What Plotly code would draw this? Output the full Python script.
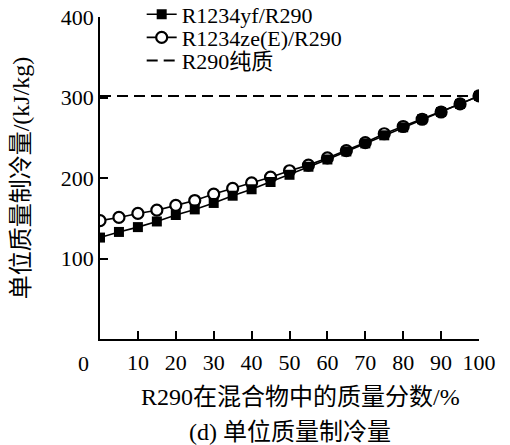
import plotly.graph_objects as go

x_frac = [0, 5, 10, 15, 20, 25, 30, 35, 40, 45, 50, 55, 60, 65, 70, 75, 80, 85, 90, 95, 100]
q_yf = [126, 133, 139, 146, 154, 161, 169, 178, 186, 195, 204, 214, 223, 233, 243, 253, 263, 273, 282, 292, 302]
q_ze = [147, 151, 156, 160, 166, 172, 180, 187, 194, 201, 209, 216, 225, 234, 244, 255, 264, 273, 282, 292, 302]
q_r290 = 302
x_ticks = [10, 20, 30, 40, 50, 60, 70, 80, 90, 100]
y_ticks = [100, 200, 300, 400]

FONT = "Liberation Serif, Noto Sans CJK SC, serif"

fig = go.Figure()
fig.add_trace(go.Scatter(
    x=x_frac, y=q_ze, name="R1234ze(E)/R290", mode="lines+markers",
    line=dict(color="black", width=1.6),
    marker=dict(symbol="circle", size=11, color="white", line=dict(color="black", width=2.2)),
    legend="legend2",
))
fig.add_trace(go.Scatter(
    x=x_frac, y=q_yf, name="R1234yf/R290", mode="lines+markers",
    line=dict(color="black", width=1.6),
    marker=dict(symbol="square", size=10, color="black"),
    legend="legend",
))
fig.add_trace(go.Scatter(
    x=[x_frac[0], x_frac[-1]], y=[q_r290, q_r290], name="R290纯质", mode="lines",
    line=dict(color="black", width=2, dash="11px,6px"),
    legend="legend3",
))

fig.add_annotation(x=0, y=0, xref="x", yref="y", text="0", showarrow=False,
                   xshift=-17, yshift=-24, font=dict(family=FONT, size=22, color="black"))
fig.add_annotation(x=0.53, y=0, xref="paper", yref="paper", yanchor="middle",
                   text="R290在混合物中的质量分数/%", showarrow=False, yshift=-58,
                   font=dict(family=FONT, size=24, color="black"))
fig.add_annotation(x=0.5, y=0, xref="paper", yref="paper", yanchor="middle",
                   text="(d) 单位质量制冷量", showarrow=False, yshift=-93,
                   font=dict(family=FONT, size=24, color="black"))

leg_common = dict(x=0.11, xanchor="left", yanchor="middle", bgcolor="rgba(0,0,0,0)",
                  font=dict(family=FONT, size=22, color="black"), borderwidth=0)

fig.update_layout(
    width=510, height=445,
    margin=dict(l=100, r=31, t=17, b=106, autoexpand=False),
    paper_bgcolor="white", plot_bgcolor="white",
    font=dict(family=FONT, size=22, color="black"),
    showlegend=True,
    legend=dict(y=1.008, **leg_common),
    legend2=dict(y=0.936, **leg_common),
    legend3=dict(y=0.864, **leg_common),
    xaxis=dict(range=[0, 100], tickvals=x_ticks, ticks="inside", ticklen=8, tickwidth=1.5,
               tickcolor="black", showline=True, linecolor="black", linewidth=1.5,
               showgrid=False, zeroline=False, tickfont=dict(family=FONT, size=22),
               ticklabelstandoff=3),
    yaxis=dict(range=[0, 400], tickvals=y_ticks, ticks="inside", ticklen=8, tickwidth=1.5,
               tickcolor="black", showline=True, linecolor="black", linewidth=1.5,
               showgrid=False, zeroline=False, tickfont=dict(family=FONT, size=22),
               title=dict(text="单位质量制冷量/(kJ/kg)", font=dict(family=FONT, size=24), standoff=24)),
)

fig.write_html("out.html", config={"displayModeBar": False},
               post_script="document.body.style.margin='0';")
